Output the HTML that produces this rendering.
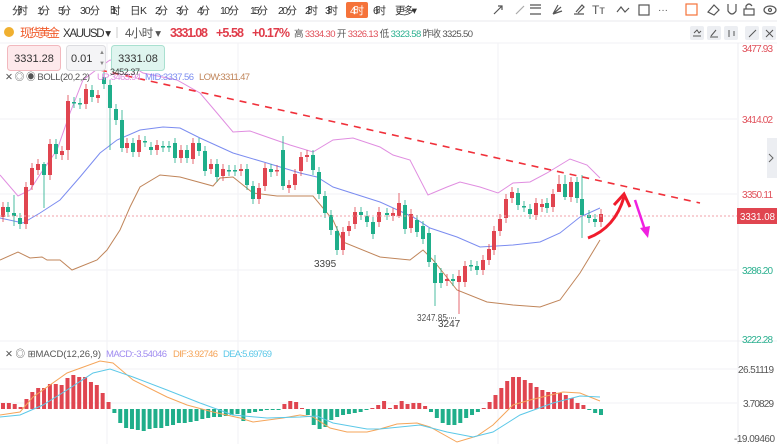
<!DOCTYPE html>
<html><head><meta charset="utf-8">
<style>
body{margin:0;width:777px;height:444px;overflow:hidden;background:#fff;font-family:"Liberation Sans","Noto Sans CJK SC",sans-serif;}
svg{position:absolute;left:0;top:0}
text{font-family:"Liberation Sans","Noto Sans CJK SC",sans-serif}
</style></head><body>
<svg id="s" width="777" height="444" xmlns="http://www.w3.org/2000/svg">
<rect width="777" height="444" fill="#fff"/>
<g font-size="10.5" fill="#333" lengthAdjust="spacingAndGlyphs">
<text x="12" y="14" textLength="16">分时</text><text x="37" y="14" textLength="13">1分</text><text x="58" y="14" textLength="13">5分</text><text x="80" y="14" textLength="20">30分</text>
<text x="110" y="14" textLength="9">1时</text><text x="130" y="14" textLength="17">日K</text><text x="155" y="14" textLength="13">2分</text><text x="176" y="14" textLength="13">3分</text>
<text x="197" y="14" textLength="13">4分</text><text x="220" y="14" textLength="19">10分</text><text x="250" y="14" textLength="18">15分</text><text x="278" y="14" textLength="19">20分</text>
<text x="305" y="14" textLength="13">2时</text><text x="325" y="14" textLength="13">3时</text>
<rect x="346" y="2" width="22" height="16" rx="2" fill="#f5733a"/><text x="350" y="14" fill="#fff" textLength="14">4时</text>
<text x="373" y="14" textLength="13">6时</text><text x="395" y="14" textLength="22">更多▾</text>
</g>
<g stroke="#555" stroke-width="1.2" fill="none">
<path d="M494 14 L502 6 M498 6 L502 6 L502 10"/>
<path d="M516 14 L524 6" stroke="#aaa"/>
<path d="M530 5 H541 M530 8 H541 M530 14 H541"/>
<path d="M553 14 L558 5 M553 14 L561 7 M553 14 L562 11"/>
<path d="M574 14 H584 M576 12 L582 5 L584 7 L578 13"/>
<text x="592" y="14" font-size="12" fill="#555" stroke="none">Tт</text>
<path d="M617 12 L621 7 L625 12 L629 8"/>
<rect x="639" y="5" width="10" height="10"/>
<text x="658" y="13" font-size="10" fill="#555" stroke="none">···</text>
<rect x="686" y="4" width="11" height="11" stroke="#f5733a"/>
<path d="M708 12 L714 5 L719 10 L714 15 Z"/>
<path d="M728 4 V11 Q732 17 736 11 V4"/>
<rect x="744" y="9" width="10" height="6"/><path d="M746 9 V6 Q749 2 752 6"/>
<ellipse cx="770" cy="10" rx="6" ry="4"/><circle cx="770" cy="10" r="1.5"/>
</g>
<line x1="0" y1="21" x2="777" y2="21" stroke="#e8e8ee"/>
<g lengthAdjust="spacingAndGlyphs">
<circle cx="9" cy="32" r="5" fill="#f0b030"/>
<text x="20" y="37" font-size="12" fill="#f05a2a" textLength="40">现货黄金</text>
<text x="63" y="37" font-size="11.5" fill="#333" textLength="48">XAUUSD ▾</text>
<line x1="117" y1="27" x2="117" y2="38" stroke="#ccc"/>
<text x="125" y="37" font-size="11.5" fill="#555" textLength="36">4小时 ▾</text>
<text x="170" y="37" font-size="12.5" font-weight="bold" fill="#e03c4a" textLength="38">3331.08</text>
<text x="216" y="37" font-size="12.5" font-weight="bold" fill="#e03c4a" textLength="28">+5.58</text>
<text x="252" y="37" font-size="12.5" font-weight="bold" fill="#e03c4a" textLength="38">+0.17%</text>
<text x="294" y="37" font-size="9.5" fill="#555" textLength="179">高 <tspan fill="#e0505a">3334.30</tspan> 开 <tspan fill="#e0505a">3326.13</tspan> 低 <tspan fill="#2bb08f">3323.58</tspan> 昨收 3325.50</text>
</g>
<g fill="#eceef2"><rect x="690" y="26" width="14" height="14" rx="2"/><rect x="707" y="26" width="14" height="14" rx="2"/><rect x="724" y="26" width="14" height="14" rx="2"/><rect x="745" y="26" width="14" height="14" rx="2"/><rect x="762" y="26" width="14" height="14" rx="2"/></g>
<g stroke="#555" fill="none" stroke-width="1"><path d="M693 36 H701 M694 33 L697 30 L699 33 L701 31"/><path d="M711 36 L716 30 M710 37 H718"/><path d="M729 30 V37 M734 31 V36"/><path d="M749 37 L756 30"/><path d="M766 30 L773 37 M773 30 L766 37"/></g>
<line x1="0" y1="43" x2="777" y2="43" stroke="#f0f0f4"/>
<g stroke="#f2f2f5"><line x1="107" y1="43" x2="107" y2="444"/><line x1="238" y1="43" x2="238" y2="444"/><line x1="498" y1="43" x2="498" y2="444"/>
<line x1="0" y1="119" x2="737" y2="119"/><line x1="0" y1="194" x2="737" y2="194"/><line x1="0" y1="270" x2="737" y2="270"/><line x1="0" y1="341" x2="777" y2="341"/><line x1="0" y1="369" x2="737" y2="369"/><line x1="0" y1="403" x2="737" y2="403"/></g>
<line x1="738" y1="43" x2="738" y2="444" stroke="#ececf0"/>
<g font-size="10" lengthAdjust="spacingAndGlyphs">
<text x="742" y="52" fill="#e0505a" textLength="31">3477.93</text><text x="742" y="123" fill="#e0505a" textLength="31">3414.02</text>
<text x="742" y="198" fill="#e0505a" textLength="31">3350.11</text><text x="742" y="274" fill="#2bb08f" textLength="31">3286.20</text><text x="742" y="343" fill="#2bb08f" textLength="31">3222.28</text>
<text x="738" y="373" fill="#555" textLength="36">26.51119</text><text x="743" y="407" fill="#555" textLength="31">3.70829</text><text x="734" y="442" fill="#555" textLength="41">-19.09460</text>
</g>
<rect x="767" y="138" width="10" height="40" fill="#eceef2"/><path d="M769 154 L773 158 L769 162" stroke="#666" fill="none"/>
<g id="bands" fill="none" stroke-width="1"></g>
<g id="candles"></g>
<line x1="0" y1="216" x2="737" y2="216" stroke="#f0a0a8" stroke-dasharray="2,2"/>
<rect x="737" y="208" width="40" height="16" fill="#e04550"/><text x="740" y="220" font-size="10" fill="#fff" textLength="35" lengthAdjust="spacingAndGlyphs">3331.08</text>
<line x1="100" y1="70" x2="700" y2="203" stroke="#f0303a" stroke-width="1.6" stroke-dasharray="7,6"/>
<path d="M588 238 Q615 228 624 197" stroke="#f01c2c" stroke-width="3" fill="none"/>
<path d="M614 205 L624 194 L630 207" stroke="#f01c2c" stroke-width="3" fill="none"/>
<path d="M635 200 L645 230" stroke="#f020e0" stroke-width="2.5"/><path d="M640 228 L648 238 L650 226 Z" fill="#f020e0"/>
<text x="314" y="267" font-size="10" fill="#444">3395</text>
<text x="417" y="321" font-size="10" fill="#555" textLength="30" lengthAdjust="spacingAndGlyphs">3247.85</text><line x1="447" y1="318" x2="457" y2="318" stroke="#555" stroke-dasharray="1,1"/>
<text x="438" y="327" font-size="10" fill="#444">3247</text>
<rect x="7.5" y="45.5" width="53" height="25" rx="3" fill="#fde9eb" stroke="#f2b8be"/><text x="34" y="62" font-size="11" fill="#333" text-anchor="middle">3331.28</text>
<rect x="66.5" y="45.5" width="39" height="25" rx="3" fill="#f4f4f6" stroke="#dcdce0"/><text x="71" y="62" font-size="11" fill="#333">0.01</text><text x="99" y="54" font-size="6" fill="#888">▲</text><text x="99" y="65" font-size="6" fill="#888">▼</text>
<rect x="111.5" y="45.5" width="53" height="25" rx="3" fill="#dff5ef" stroke="#a9e0d0"/><text x="138" y="62" font-size="11" fill="#333" text-anchor="middle">3331.08</text>
<g font-size="9.5" lengthAdjust="spacingAndGlyphs">
<text x="5" y="80" fill="#555" textLength="85">✕ ◎ ◉ BOLL(20,2,2)</text>
<text x="97" y="80" fill="#e08de0" textLength="44">UP:3463.94</text><text x="145" y="80" fill="#7b8cf0" textLength="49">MID:3337.56</text><text x="199" y="80" fill="#c0855a" textLength="51">LOW:3311.47</text>
<text x="110" y="75" fill="#444" font-size="9" textLength="30">3452.37</text>
<text x="5" y="357" fill="#555" textLength="96">✕ ◎ ⊞MACD(12,26,9)</text>
<text x="106" y="357" fill="#a08cf0" textLength="61">MACD:-3.54046</text><text x="173" y="357" fill="#f5a55a" textLength="45">DIF:3.92746</text><text x="223" y="357" fill="#5cc8e8" textLength="49">DEA:5.69769</text>
</g>
<g id="macd"></g>
</svg>
<script>
var NS="http://www.w3.org/2000/svg";
function el(p,t,a){var e=document.createElementNS(NS,t);for(var k in a)e.setAttribute(k,a[k]);document.getElementById(p).appendChild(e);return e;}
var R="#e04550",G="#1fae8a";
var C=[[1,207,217,1],[6,207,212,0],[12,213,216,0],[18,218,224,0],[24,187,224,1],[30,168,185,1],[36,164,170,1],[42,164,175,0],[48,144,175,1],[54,144,154,0],[60,151,155,1],[66,101,150,1],[72,102,103,0],[78,103,104,0],[84,89,104,1],[90,90,97,0],[96,95,98,1],[102,77,84,0],[108,85,108,0],[114,109,120,0],[120,120,148,0],[125,143,148,1],[131,143,152,0],[137,140,152,1],[143,141,142,0],[149,147,150,0],[155,145,150,1],[161,146,147,0],[167,146,147,0],[173,143,158,0],[179,150,158,1],[185,150,158,0],[191,143,159,1],[197,143,151,0],[203,151,171,0],[209,164,169,1],[215,164,177,0],[221,169,176,1],[227,170,171,0],[233,170,171,0],[239,169,171,1],[245,169,185,0],[251,186,199,0],[257,188,199,1],[263,168,186,1],[269,169,172,0],[275,170,171,1],[281,150,186,0],[287,185,188,1],[293,174,185,1],[299,157,171,1],[305,155,157,1],[311,155,170,0],[317,172,194,0],[323,196,213,0],[329,215,230,0],[335,231,250,0],[341,232,250,1],[347,226,231,1],[353,212,224,1],[359,212,215,0],[365,216,222,0],[371,222,234,0],[377,212,222,1],[385,213,215,0],[391,213,216,1],[397,203,216,1],[403,205,229,0],[409,214,228,1],[415,220,232,0],[421,226,239,0],[427,233,262,0],[433,263,283,0],[439,273,283,0],[445,279,281,1],[451,279,281,0],[457,276,282,1],[463,266,282,1],[469,265,266,0],[475,266,270,0],[481,260,270,1],[487,249,260,1],[492,231,250,1],[498,219,231,1],[504,199,218,1],[510,192,198,1],[516,193,205,0],[522,206,207,0],[528,209,214,0],[534,203,215,1],[540,204,207,1],[545,203,208,0],[551,194,207,1],[557,184,192,1],[563,184,197,0],[569,182,197,1],[575,182,198,0],[580,199,215,0],[587,215,218,0],[593,219,222,0],[599,214,222,1]];
var spec={281:[136,190],457:[270,314],433:[255,306],580:[175,238],397:[193,218],108:[80,150],42:[162,208],12:[195,226],66:[95,160],120:[110,152],563:[175,200],557:[175,192]};
C.forEach(function(c){var col=c[3]?R:G;var h=c[1]-5,l=c[2]+5;if(spec[c[0]]){h=spec[c[0]][0];l=spec[c[0]][1];}
el("candles","line",{x1:c[0]+2,x2:c[0]+2,y1:h,y2:l,stroke:col,"stroke-width":1,opacity:0.8});
el("candles","rect",{x:c[0],y:c[1],width:4,height:Math.max(1.5,c[2]-c[1]),fill:col});});
function pl(g,pts,col,w){el(g,"polyline",{points:pts,stroke:col,fill:"none","stroke-width":w||1});}
pl("bands","0,175 18,196 30,190 43,170 57,150 70,113 83,80 100,67 110,60 127,63 143,73 177,80 200,93 217,113 233,132 250,131 267,137 290,145 313,152 333,140 353,138 380,147 393,155 410,160 428,195 447,187 460,182 480,187 498,193 513,183 530,182 547,173 570,159 587,165 600,178","#e08de0");
pl("bands","0,218 23,223 40,213 60,200 80,177 100,153 117,140 140,130 163,127 180,128 200,138 233,153 267,163 300,173 317,177 333,187 380,202 413,217 430,228 457,237 480,247 513,245 540,242 560,233 580,217 600,208","#7b8cf0");
pl("bands","0,260 18,252 30,258 42,257 47,260 60,260 72,270 97,260 107,250 120,230 130,207 140,187 160,175 180,177 213,186 220,178 233,177 253,193 277,196 313,196 333,220 343,242 380,257 410,260 423,250 433,260 457,290 487,302 513,305 540,307 560,300 580,273 600,240","#c0855a");
var Z=409;
var H=[403,403,404,407,399,392,388,388,384,384,385,378,375,377,377,382,385,393,402,
413,423,428,429,430,431,429,428,428,426,425,423,423,422,421,419,418,417,417,416,415,414,421,413,412,411,410,410,409.5,
404,401,402,408,
415,425,429,427,420,417,415,414,413,412,410,
408,405,401,408,405,401,404,403,403,406,
412,418,423,425,425,423,418,415,412,
408,402,395,388,381,377,377,380,383,387,390,392,392,393,395,398,403,405,409,413,415];
var n=H.length;
H.forEach(function(y,i){var x=1+i*(598/(n-1));var col=y<Z?R:G;
el("macd","rect",{x:x,y:Math.min(y,Z),width:4,height:Math.max(1,Math.abs(y-Z)),fill:col});});
pl("macd","0,415 20,412 33,397 67,373 100,361 113,363 133,380 167,397 187,405 213,412 240,418 253,422 283,418 300,415 313,417 330,428 347,432 367,432 380,429 397,424 417,423 430,427 457,442 477,436 493,425 513,405 530,400 563,392 580,393 600,401","#f5a55a");
pl("macd","0,417 20,415 43,405 67,390 93,373 110,369 133,377 167,390 200,403 233,415 267,418 300,417 317,416 333,423 367,429 380,429 420,425 447,432 473,437 493,432 520,415 553,403 580,396 600,397","#5cc8e8");
</script>
</body></html>
